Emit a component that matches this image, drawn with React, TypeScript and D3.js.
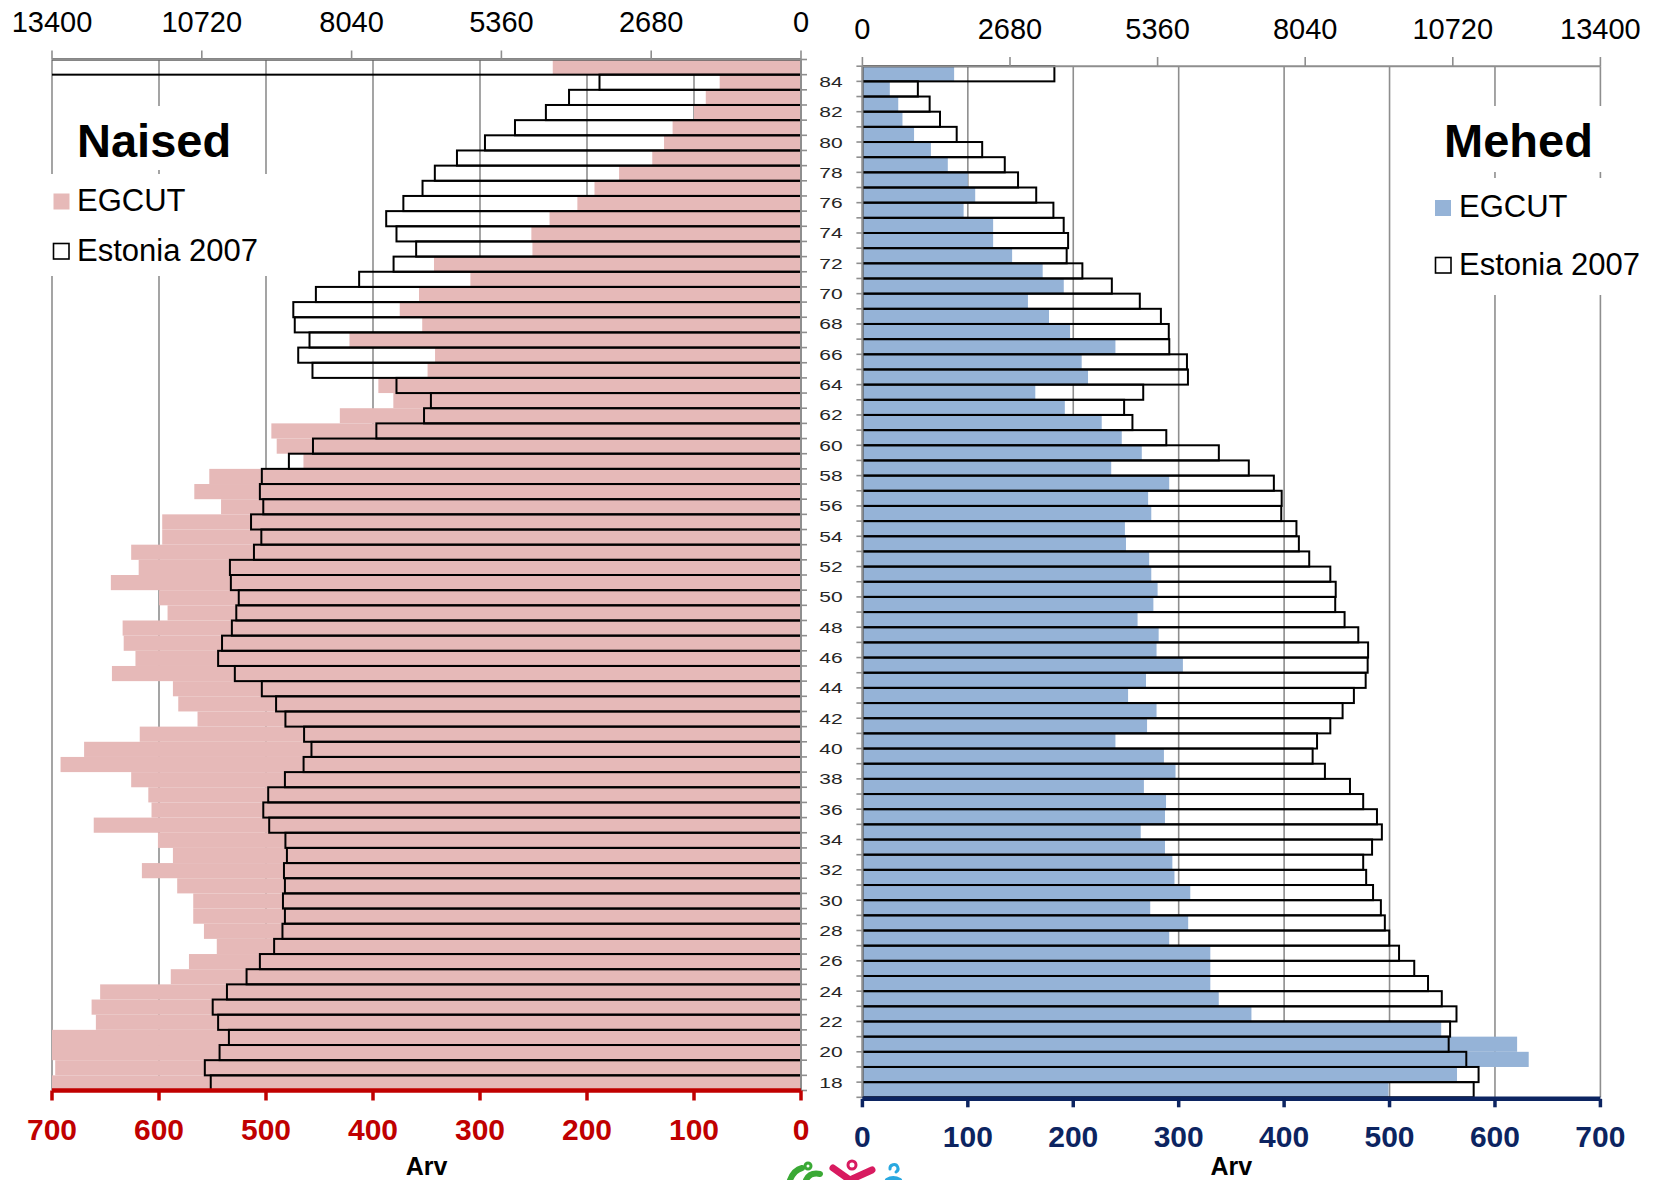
import React from 'react';
import * as d3 from 'd3';

// Age categories, top (85) to bottom (18)
const ages = [85, 84, 83, 82, 81, 80, 79, 78, 77, 76, 75, 74, 73, 72, 71, 70, 69, 68, 67, 66, 65, 64, 63, 62, 61, 60,
  59, 58, 57, 56, 55, 54, 53, 52, 51, 50, 49, 48, 47, 46, 45, 44, 43, 42, 41, 40, 39, 38, 37, 36, 35, 34, 33, 32, 31, 30,
  29, 28, 27, 26, 25, 24, 23, 22, 21, 20, 19, 18];

// Women (Naised) – EGCUT counts (bottom axis, 0–700)
const womenEGCUT = [232, 76, 89, 100, 120, 128, 139, 170, 193, 209, 235, 252, 251, 343, 309, 357, 375, 354, 422, 342, 349, 395, 381, 431, 495, 490,
  465, 553, 567, 542, 597, 597, 626, 619, 645, 600, 592, 634, 633, 622, 644, 587, 582, 564, 618, 670, 692, 626, 610, 607, 661, 601, 587, 616, 583, 568,
  568, 558, 546, 572, 589, 655, 663, 659, 700, 700, 697, 700];

// Women – Estonia 2007 population (top axis, 0–13400)
const womenEstonia = [15000, 3605, 4150, 4564, 5117, 5654, 6155, 6551, 6771, 7114, 7421, 7237, 6885, 7289, 7905, 8679, 9083, 9057, 8793, 8995, 8740, 7237, 6621, 6744, 7597, 8731,
  9162, 9646, 9681, 9620, 9839, 9655, 9787, 10217, 10200, 10059, 10103, 10182, 10358, 10428, 10129, 9646, 9391, 9224, 8890, 8758, 8899, 9233, 9532, 9620, 9514, 9224, 9197, 9250, 9233, 9268,
  9233, 9277, 9426, 9681, 9919, 10270, 10525, 10428, 10235, 10402, 10666, 10560];

// Men (Mehed) – EGCUT counts
const menEGCUT = [87, 26, 34, 38, 49, 65, 81, 100, 107, 96, 124, 124, 142, 171, 191, 157, 177, 197, 240, 208, 214, 164, 192, 227, 246, 265,
  236, 291, 271, 274, 249, 250, 272, 274, 280, 276, 261, 281, 279, 304, 269, 252, 279, 270, 240, 286, 297, 267, 288, 287, 264, 287, 294, 296, 311, 273,
  309, 291, 330, 330, 330, 338, 369, 549, 621, 632, 564, 499];

// Men – Estonia 2007 population
const menEstonia = [3486, 1007, 1221, 1409, 1712, 2175, 2585, 2826, 3156, 3468, 3655, 3735, 3709, 3994, 4529, 5037, 5420, 5563, 5572, 5893, 5911, 5099, 4752, 4903, 5518, 6472,
  7016, 7471, 7613, 7605, 7881, 7925, 8113, 8496, 8594, 8585, 8755, 9004, 9182, 9174, 9138, 8924, 8719, 8496, 8255, 8175, 8398, 8853, 9093, 9343, 9432, 9254, 9093, 9147, 9272, 9414,
  9486, 9566, 9744, 10020, 10270, 10520, 10787, 10671, 10645, 10965, 11188, 11099];

const topTicks = [0, 2680, 5360, 8040, 10720, 13400];
const bottomTicks = [0, 100, 200, 300, 400, 500, 600, 700];
const ageLabels = [84, 82, 80, 78, 76, 74, 72, 70, 68, 66, 64, 62, 60, 58, 56, 54, 52, 50, 48, 46, 44, 42, 40, 38, 36, 34, 32, 30, 28, 26, 24, 22, 20, 18];

const FONT = "Arial, 'Liberation Sans', sans-serif";
const GRID = '#8e8e8e';
const PINK = '#e6b9b8';
const BLUE = '#95b3d7';
const RED = '#c00000';
const NAVY = '#0c2461';

export default function App() {
  const W = 1659, H = 1180;
  const L = { x0: 801, x1: 52, top: 59.5, bottom: 1090.5 };
  const R = { x0: 862.4, x1: 1600.4, top: 66.2, bottom: 1097.3 };

  const yL = d3.scaleBand<number>().domain(ages).range([L.top, L.bottom]).padding(0);
  const yR = d3.scaleBand<number>().domain(ages).range([R.top, R.bottom]).padding(0);
  const xLB = d3.scaleLinear().domain([0, 700]).range([L.x0, L.x1]);
  const xLT = d3.scaleLinear().domain([0, 13400]).range([L.x0, L.x1]);
  const xRB = d3.scaleLinear().domain([0, 700]).range([R.x0, R.x1]);
  const xRT = d3.scaleLinear().domain([0, 13400]).range([R.x0, R.x1]);

  const bwL = yL.bandwidth();
  const bwR = yR.bandwidth();
  const boundsL = [...ages.map((a) => yL(a) as number), L.bottom];
  const boundsR = [...ages.map((a) => yR(a) as number), R.bottom];

  return (
    <svg width={W} height={H} style={{ position: 'absolute', left: 0, top: 0, background: '#fff' }} fontFamily={FONT}>
      <defs>
        <clipPath id="clipL"><rect x={L.x1} y={L.top - 2} width={L.x0 - L.x1} height={L.bottom - L.top + 4} /></clipPath>
        <clipPath id="clipR"><rect x={R.x0} y={R.top - 2} width={R.x1 - R.x0} height={R.bottom - R.top + 4} /></clipPath>
      </defs>
      <rect x={0} y={0} width={W} height={H} fill="#fff" />

      {/* gridlines */}
      {bottomTicks.map((v) => (
        <line key={'gl' + v} x1={xLB(v)} x2={xLB(v)} y1={L.top} y2={L.bottom} stroke={GRID} strokeWidth={1.6} />
      ))}
      {bottomTicks.map((v) => (
        <line key={'gr' + v} x1={xRB(v)} x2={xRB(v)} y1={R.top} y2={R.bottom} stroke={GRID} strokeWidth={1.6} />
      ))}

      {/* title / legend backgrounds */}
      <rect x={68} y={106} width={172} height={64} fill="#fff" />
      <rect x={45} y={174} width={230} height={102} fill="#fff" />
      <rect x={1432} y={106} width={178} height={66} fill="#fff" />
      <rect x={1425} y={178} width={234} height={117} fill="#fff" />

      {/* EGCUT bars and Estonia 2007 outlines */}
      <g clipPath="url(#clipL)">
        {ages.map((a, i) => (
          <rect key={'wp' + a} x={xLB(womenEGCUT[i])} y={yL(a)} width={L.x0 - xLB(womenEGCUT[i])} height={bwL} fill={PINK} />
        ))}
        {ages.map((a, i) => (
          <rect key={'wo' + a} x={xLT(womenEstonia[i])} y={yL(a)} width={L.x0 - xLT(womenEstonia[i])} height={bwL}
            fill="none" stroke="#000" strokeWidth={2} />
        ))}
      </g>
      <g clipPath="url(#clipR)">
        {ages.map((a, i) => (
          <rect key={'mb' + a} x={R.x0} y={yR(a)} width={xRB(menEGCUT[i]) - R.x0} height={bwR} fill={BLUE} />
        ))}
        {ages.map((a, i) => (
          <rect key={'mo' + a} x={R.x0} y={yR(a)} width={xRT(menEstonia[i]) - R.x0} height={bwR}
            fill="none" stroke="#000" strokeWidth={2} />
        ))}
      </g>

      {/* category axes */}
      <line x1={L.x0} x2={L.x0} y1={L.top} y2={L.bottom} stroke={GRID} strokeWidth={2} />
      {boundsL.map((y, i) => (
        <line key={'tl' + i} x1={L.x0} x2={L.x0 + 6} y1={y} y2={y} stroke={GRID} strokeWidth={1.6} />
      ))}
      <line x1={R.x0} x2={R.x0} y1={R.top} y2={R.bottom} stroke={GRID} strokeWidth={2} />
      {boundsR.map((y, i) => (
        <line key={'tr' + i} x1={R.x0 - 6} x2={R.x0} y1={y} y2={y} stroke={GRID} strokeWidth={1.6} />
      ))}
      {ageLabels.map((a) => (
        <text key={'al' + a} transform={`translate(831,${(yR(a) as number) + 5.5}) scale(1.4,1)`} textAnchor="middle"
          fontSize={15} fill="#262626">{a}</text>
      ))}

      {/* top axes */}
      <line x1={L.x1} x2={L.x0} y1={L.top} y2={L.top} stroke={GRID} strokeWidth={2} />
      {topTicks.map((v) => (
        <line key={'ttl' + v} x1={xLT(v)} x2={xLT(v)} y1={50.5} y2={L.top} stroke={GRID} strokeWidth={1.6} />
      ))}
      {topTicks.map((v) => (
        <text key={'tlt' + v} x={xLT(v)} y={32} textAnchor="middle" fontSize={29} fill="#000">{v}</text>
      ))}
      <line x1={R.x0} x2={R.x1} y1={R.top} y2={R.top} stroke={GRID} strokeWidth={2} />
      {topTicks.map((v) => (
        <line key={'ttr' + v} x1={xRT(v)} x2={xRT(v)} y1={57} y2={R.top} stroke={GRID} strokeWidth={1.6} />
      ))}
      {topTicks.map((v) => (
        <text key={'trt' + v} x={xRT(v)} y={38.5} textAnchor="middle" fontSize={29} fill="#000">{v}</text>
      ))}

      {/* bottom axes */}
      <line x1={L.x1} x2={L.x0} y1={L.bottom} y2={L.bottom} stroke={RED} strokeWidth={4.5} />
      {bottomTicks.map((v) => (
        <line key={'btl' + v} x1={xLB(v)} x2={xLB(v)} y1={L.bottom} y2={L.bottom + 10} stroke={RED} strokeWidth={3.5} />
      ))}
      {bottomTicks.map((v) => (
        <text key={'blt' + v} x={xLB(v)} y={1140} textAnchor="middle" fontSize={30} fontWeight="bold" fill={RED}>{v}</text>
      ))}
      <line x1={R.x0} x2={R.x1} y1={R.bottom + 1.5} y2={R.bottom + 1.5} stroke={NAVY} strokeWidth={4.5} />
      {bottomTicks.map((v) => (
        <line key={'btr' + v} x1={xRB(v)} x2={xRB(v)} y1={R.bottom + 1.5} y2={R.bottom + 10} stroke={NAVY} strokeWidth={3.5} />
      ))}
      {bottomTicks.map((v) => (
        <text key={'brt' + v} x={xRB(v)} y={1147} textAnchor="middle" fontSize={30} fontWeight="bold" fill={NAVY}>{v}</text>
      ))}
      <text x={(L.x0 + L.x1) / 2} y={1175} textAnchor="middle" fontSize={25} fontWeight="bold" fill="#000">Arv</text>
      <text x={(R.x0 + R.x1) / 2} y={1175} textAnchor="middle" fontSize={25} fontWeight="bold" fill="#000">Arv</text>

      {/* titles & legends */}
      <text x={77} y={157} fontSize={47} fontWeight="bold" fill="#000">Naised</text>
      <rect x={53.5} y={193.5} width={16} height={16} fill={PINK} />
      <text x={77} y={210.5} fontSize={31} fill="#000">EGCUT</text>
      <rect x={53.5} y={243.5} width={15.5} height={15.5} fill="#fff" stroke="#000" strokeWidth={1.6} />
      <text x={77} y={260.5} fontSize={31} fill="#000">Estonia 2007</text>

      <text x={1444} y={156.5} fontSize={47} fontWeight="bold" fill="#000">Mehed</text>
      <rect x={1435} y={200} width={16} height={16} fill={BLUE} />
      <text x={1459} y={217} fontSize={31} fill="#000">EGCUT</text>
      <rect x={1435.5} y={257.5} width={15.5} height={15.5} fill="#fff" stroke="#000" strokeWidth={1.6} />
      <text x={1459} y={274.5} fontSize={31} fill="#000">Estonia 2007</text>

      {/* logo fragment at bottom */}
      <g fill="none" strokeLinecap="round">
        <path d="M790,1180 Q794,1170 802,1168" stroke="#3aa935" strokeWidth={6} />
        <path d="M806,1180 Q810,1172 820,1174" stroke="#3aa935" strokeWidth={6} />
        <circle cx={808} cy={1166} r={3} stroke="#3aa935" strokeWidth={3} />
        <path d="M833,1168 L850,1180 L872,1170" stroke="#d81b60" strokeWidth={7} />
        <circle cx={852} cy={1165} r={4} stroke="#d81b60" strokeWidth={3} />
        <path d="M896,1172 a4,4 0 1,0 -6,-3" stroke="#29a8e0" strokeWidth={3} />
        <path d="M887,1180 Q893,1176 900,1180" stroke="#29a8e0" strokeWidth={4} />
      </g>
    </svg>
  );
}
